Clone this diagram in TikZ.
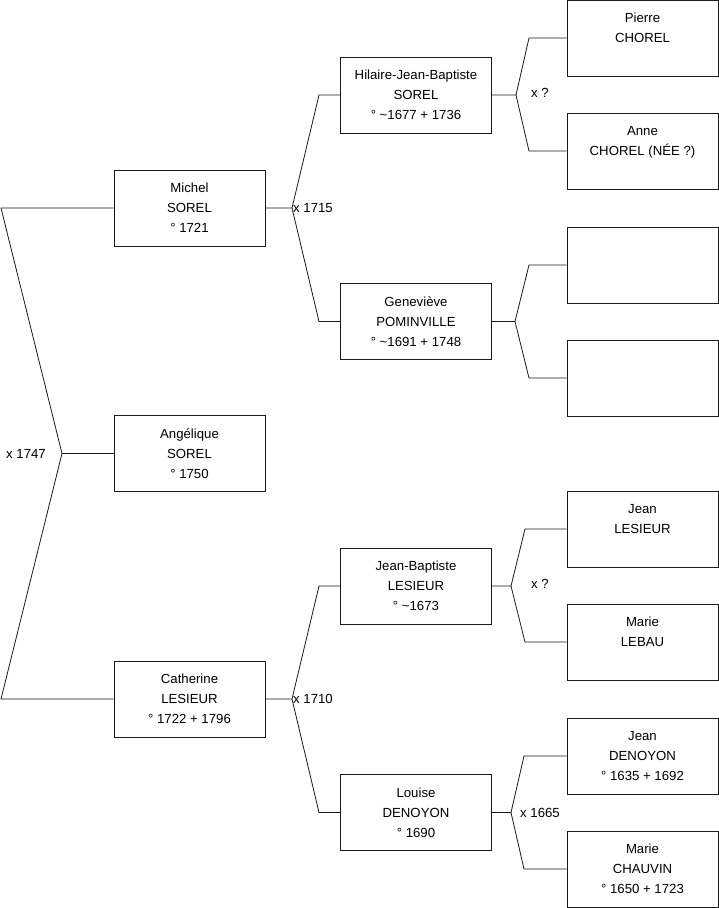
\documentclass[tikz,border=0pt]{standalone}
\usepackage{fontspec}
\setmainfont{Liberation Sans}

\tikzset{
  person/.style={draw=black!90, line width=0.8pt, minimum width=151pt, minimum height=76pt,
    inner sep=0pt, align=center, font=\fontsize{13.2}{20}\selectfont},
  link/.style={draw=black!90, line width=0.8pt},
  union/.style={inner sep=0pt, font=\fontsize{13.2}{15}\selectfont}
}

\begin{document}
\begin{tikzpicture}[x=1pt, y=-1pt]
  \useasboundingbox (0,0) rectangle (719,908);
  % generation 1
  \node[person] (ang) at (189.5,453.5) {Angélique\\SOREL\\° 1750};
  % generation 2
  \node[person] (mic) at (189.5,208) {Michel\\SOREL\\° 1721};
  \node[person] (cat) at (189.5,699) {Catherine\\LESIEUR\\° 1722 + 1796};
  % generation 3
  \node[person] (hil) at (416,95) {Hilaire-Jean-Baptiste\\SOREL\\° \textasciitilde1677 + 1736};
  \node[person] (gen) at (416,321.5) {Geneviève\\POMINVILLE\\° \textasciitilde1691 + 1748};
  \node[person] (jbl) at (416,586) {Jean-Baptiste\\LESIEUR\\° \textasciitilde1673};
  \node[person] (lou) at (416,812.5) {Louise\\DENOYON\\° 1690};
  % generation 4
  \node[person] (pie) at (642.5,38) {Pierre\\CHOREL\\};
  \node[person] (ann) at (642.5,151) {Anne\\CHOREL (NÉE ?)\\};
  \node[person] (gp1) at (642.5,265) {};
  \node[person] (gp2) at (642.5,378) {};
  \node[person] (jea) at (642.5,529) {Jean\\LESIEUR\\};
  \node[person] (mar) at (642.5,642) {Marie\\LEBAU\\};
  \node[person] (jde) at (642.5,756) {Jean\\DENOYON\\° 1635 + 1692};
  \node[person] (mch) at (642.5,869) {Marie\\CHAUVIN\\° 1650 + 1723};

  % parents of Angelique
  \coordinate (u1) at (62,453.5);
  \coordinate (u1a) at (1,208);
  \coordinate (u1b) at (1,699);
  \draw[link] (mic.west) -- (u1a) -- (u1) -- (u1b) -- (cat.west);
  \draw[link] (u1) -- (ang.west);
  \node[union, anchor=east] (m1) at (46,453.5) {x 1747};

  % parents of Michel
  \coordinate (u2) at (292,208);
  \draw[link] (mic.east) -- (u2) -- (319,95) -- (hil.west);
  \draw[link] (u2) -- (319,321.5) -- (gen.west);
  \node[union, anchor=west] (m2) at (293,208) {x 1715};

  % parents of Catherine
  \coordinate (u3) at (292,699);
  \draw[link] (cat.east) -- (u3) -- (319,586) -- (jbl.west);
  \draw[link] (u3) -- (319,812.5) -- (lou.west);
  \node[union, anchor=west] (m3) at (293,699) {x 1710};

  % parents of Hilaire-Jean-Baptiste
  \coordinate (u4) at (516,95);
  \draw[link] (hil.east) -- (u4) -- (529,38) -- (pie.west);
  \draw[link] (u4) -- (529,151) -- (ann.west);
  \node[union, anchor=west] (m4) at (531,93) {x ?};

  % parents of Genevieve
  \coordinate (u5) at (515,321.5);
  \draw[link] (gen.east) -- (u5) -- (529,265) -- (gp1.west);
  \draw[link] (u5) -- (529,378) -- (gp2.west);

  % parents of Jean-Baptiste
  \coordinate (u6) at (511,586);
  \draw[link] (jbl.east) -- (u6) -- (525,529) -- (jea.west);
  \draw[link] (u6) -- (525,642) -- (mar.west);
  \node[union, anchor=west] (m6) at (531,584) {x ?};

  % parents of Louise
  \coordinate (u7) at (511,812.5);
  \draw[link] (lou.east) -- (u7) -- (524,756) -- (jde.west);
  \draw[link] (u7) -- (524,869) -- (mch.west);
  \node[union, anchor=west] (m7) at (520,812.5) {x 1665};
\end{tikzpicture}
\end{document}
